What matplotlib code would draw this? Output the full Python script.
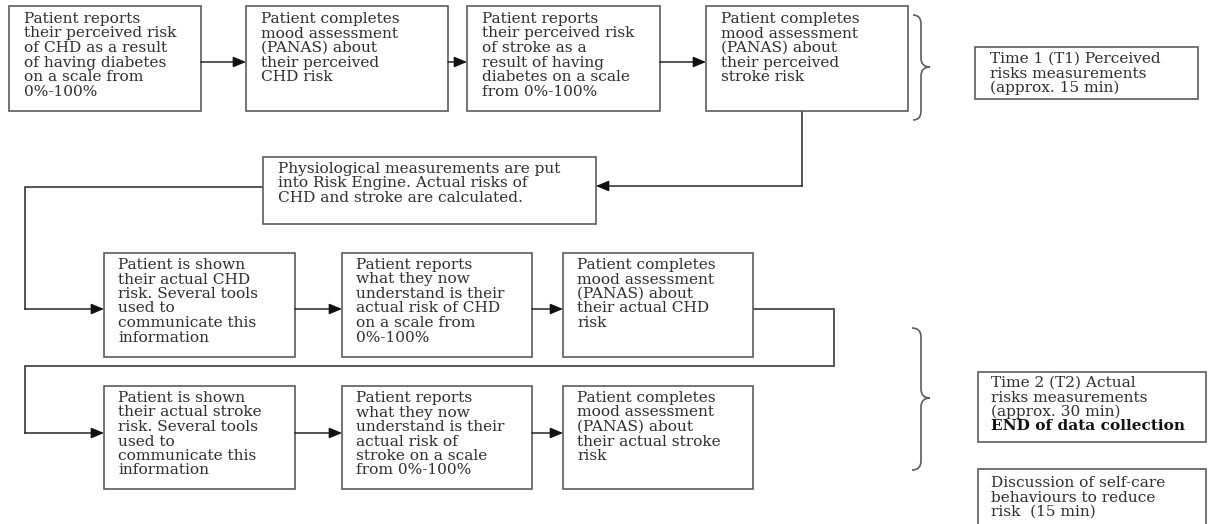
import matplotlib
matplotlib.use("Agg")
import matplotlib.pyplot as plt
from matplotlib.patches import Rectangle, FancyArrowPatch, PathPatch
from matplotlib.path import Path

# ---------------- data (texts) ----------------
row1_texts = [
    ["Patient reports", "their perceived risk", "of CHD as a result",
     "of having diabetes", "on a scale from", "0%-100%"],
    ["Patient completes", "mood assessment", "(PANAS) about",
     "their perceived", "CHD risk"],
    ["Patient reports", "their perceived risk", "of stroke as a",
     "result of having", "diabetes on a scale", "from 0%-100%"],
    ["Patient completes", "mood assessment", "(PANAS) about",
     "their perceived", "stroke risk"],
]
engine_text = ["Physiological measurements are put",
               "into Risk Engine. Actual risks of",
               "CHD and stroke are calculated."]
row2_texts = [
    ["Patient is shown", "their actual CHD", "risk. Several tools",
     "used to", "communicate this", "information"],
    ["Patient reports", "what they now", "understand is their",
     "actual risk of CHD", "on a scale from", "0%-100%"],
    ["Patient completes", "mood assessment", "(PANAS) about",
     "their actual CHD", "risk"],
]
row3_texts = [
    ["Patient is shown", "their actual stroke", "risk. Several tools",
     "used to", "communicate this", "information"],
    ["Patient reports", "what they now", "understand is their",
     "actual risk of", "stroke on a scale", "from 0%-100%"],
    ["Patient completes", "mood assessment", "(PANAS) about",
     "their actual stroke", "risk"],
]
t1_text = ["Time 1 (T1) Perceived", "risks measurements", "(approx. 15 min)"]
t2_text = ["Time 2 (T2) Actual", "risks measurements", "(approx. 30 min)"]
t2_bold = "END of data collection"
disc_text = ["Discussion of self-care", "behaviours to reduce", "risk  (15 min)"]

# ---------------- figure ----------------
W, H = 1208, 524
fig = plt.figure(figsize=(W / 100, H / 100), dpi=100)
ax = fig.add_axes([0, 0, 1, 1])
ax.set_xlim(0, W)
ax.set_ylim(H, 0)
ax.axis("off")

FONT = "DejaVu Serif"
FS = 11.1
TCOL = "#2e2e2e"
ECOL = "#5c5c5c"
LCOL = "#3a3a3a"
PITCH = 14.5


def box(x0, x1, y0, y1, lines, dx=14, dy=16.5, bold_last=None, open_bottom=False):
    if open_bottom:
        ax.plot([x0, x0, x1, x1], [y1, y0, y0, y1], color=ECOL, lw=1.2,
                solid_joinstyle="miter", zorder=2)
    else:
        ax.add_patch(Rectangle((x0, y0), x1 - x0, y1 - y0, facecolor="white",
                               edgecolor=ECOL, lw=1.2, zorder=2))
    for i, ln in enumerate(lines):
        ax.text(x0 + dx, y0 + dy + i * PITCH, ln, family=FONT, fontsize=FS,
                color=TCOL, va="baseline", ha="left", zorder=3)
    if bold_last is not None:
        ax.text(x0 + dx, y0 + dy + len(lines) * PITCH, bold_last, family=FONT,
                fontsize=FS, fontweight="bold", color="#111111",
                va="baseline", ha="left", zorder=3)


def arrow(x0, y0, x1, y1):
    ax.add_patch(FancyArrowPatch((x0, y0), (x1, y1),
                                 arrowstyle="-|>,head_length=0.6,head_width=0.25",
                                 mutation_scale=13, color="#111111", lw=1.0,
                                 shrinkA=0, shrinkB=0, zorder=4))


def polyline(xs, ys):
    ax.plot(xs, ys, color=LCOL, lw=1.2, solid_joinstyle="miter",
            solid_capstyle="projecting", zorder=1)


def brace(x0, xs, xt, yt, ym, yb, r=9):
    verts = [(x0, yt), (xs, yt), (xs, yt + r),
             (xs, ym - r), (xs, ym), (xt, ym),
             (xs, ym), (xs, ym + r),
             (xs, yb - r), (xs, yb), (x0, yb)]
    codes = [Path.MOVETO, Path.CURVE3, Path.CURVE3,
             Path.LINETO, Path.CURVE3, Path.CURVE3,
             Path.CURVE3, Path.CURVE3,
             Path.LINETO, Path.CURVE3, Path.CURVE3]
    ax.add_patch(PathPatch(Path(verts, codes), facecolor="none",
                           edgecolor=ECOL, lw=1.2, zorder=2))


# Row 1
row1_x = [(9, 201), (246, 448), (467, 660), (706, 908)]
r1y = (6, 111)
for (x0, x1), lines in zip(row1_x, row1_texts):
    box(x0, x1, r1y[0], r1y[1], lines, dx=15, dy=17)
for i in range(3):
    arrow(row1_x[i][1], 62, row1_x[i + 1][0], 62)

# Risk engine box
eng = (263, 596, 157, 224)
box(eng[0], eng[1], eng[2], eng[3], engine_text, dx=15, dy=16)
polyline([802, 802], [111, 186])
arrow(802, 186, eng[1], 186)

# Row 2 and 3
rx = [(104, 295), (342, 532), (563, 753)]
r2y = (253, 357)
r3y = (386, 489)
for (x0, x1), lines in zip(rx, row2_texts):
    box(x0, x1, r2y[0], r2y[1], lines, dx=14, dy=16)
for (x0, x1), lines in zip(rx, row3_texts):
    box(x0, x1, r3y[0], r3y[1], lines, dx=14, dy=16)
for i in range(2):
    arrow(rx[i][1], 309, rx[i + 1][0], 309)
    arrow(rx[i][1], 433, rx[i + 1][0], 433)

# Connectors
polyline([eng[0], 25, 25], [187, 187, 309])
arrow(25, 309, rx[0][0], 309)
polyline([rx[2][1], 834, 834, 25, 25], [309, 309, 366, 366, 433])
arrow(25, 433, rx[0][0], 433)

# Braces
brace(913, 921, 930, 15, 67, 120)
brace(912, 921, 930, 328, 398, 470)

# Right-hand phase boxes
box(975, 1198, 47, 99, t1_text, dx=15, dy=16)
box(978, 1206, 372, 442, t2_text, dx=13, dy=15, bold_last=t2_bold)
box(978, 1206, 469, 530, disc_text, dx=13, dy=18, open_bottom=True)

fig.savefig("out.png", dpi=100, facecolor="white")
